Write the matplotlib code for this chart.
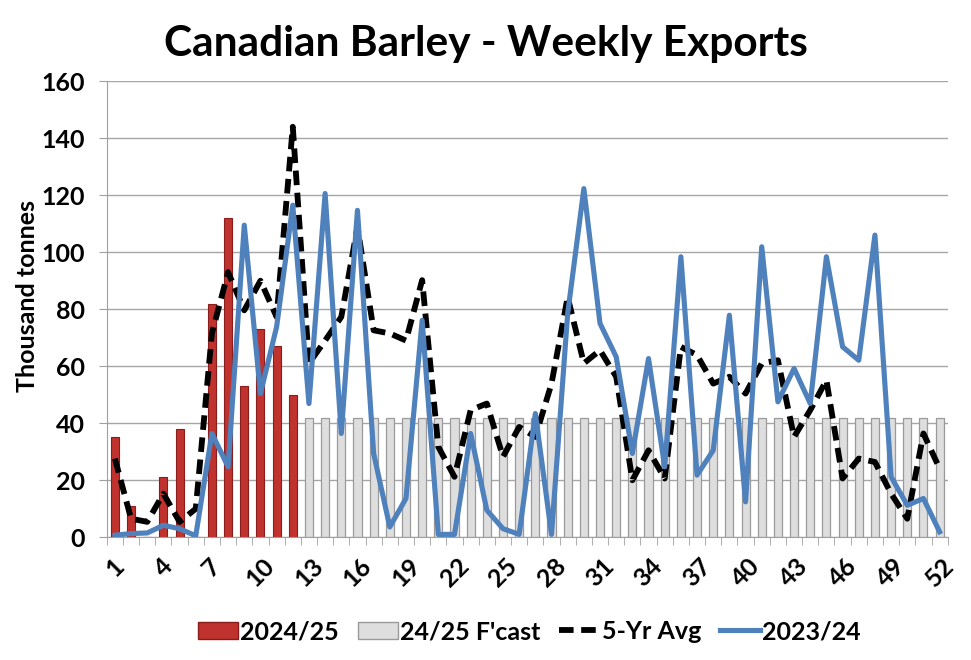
import matplotlib.pyplot as plt
import numpy as np
from matplotlib.patches import Patch
from matplotlib.lines import Line2D

# datos semanales (miles de toneladas)
weeks = list(range(1, 53))

exports_2425 = [35, 11, 0, 21, 38, 0, 82, 112, 53, 73, 67, 50]   # semanas 1-12
fcast_weeks = list(range(13, 53))
fcast_2425 = [42] * len(fcast_weeks)

avg_5yr = [27.6, 6.5, 5.4, 15.3, 5.4, 10, 71.5, 93, 79.6, 90, 77.3, 144,
           61, 69, 77.3, 108.9, 72.6, 71.5, 69, 90.2, 31.7, 21.2, 44.6, 46.9,
           28.2, 38.7, 35.2, 53.9, 84.3, 61, 65.6, 56.3, 20, 30.5, 20.6, 66.8,
           63.9, 53.9, 56.3, 50.4, 61, 62.1, 35.2, 44.6, 55.1, 20.6, 27.6, 26.4,
           15.3, 6.5, 36.4, 24.1]

exports_2324 = [0.7, 1.3, 1.5, 4.2, 3, 0.5, 36.4, 24.7, 109.5, 50.4, 73.8, 116.5,
                46.9, 120.6, 36.4, 114.7, 29.4, 3.6, 13.6, 76.1, 1, 1, 36.4, 9.5,
                3, 1, 43.4, 1, 78.5, 122.3, 75, 63.3, 29.4, 62.7, 24.7, 98.4,
                21.8, 30.5, 77.9, 12.4, 101.9, 47.5, 59.2, 46.9, 98.4, 66.8, 62.1, 106,
                21.2, 11.2, 13.6, 1.9]

tick_weeks = list(range(1, 53, 3))
yticks = list(range(0, 161, 20))

plt.rcParams['font.family'] = ['Lato', 'DejaVu Sans']
plt.rcParams['font.weight'] = 'bold'

fig = plt.figure(figsize=(9.71, 6.6), dpi=100)
ax = fig.add_axes([0.110, 0.186, 0.866, 0.691])

red = '#c0322d'
blue = '#4f81bd'
dash = (0, (2.5, 1.3))

ax.bar(range(1, 13), exports_2425, width=0.5, color=red, edgecolor='#8b1c1c',
       linewidth=0.8, zorder=2)
ax.bar(fcast_weeks, fcast_2425, width=0.5, color='#dedede', edgecolor='#9a9a9a',
       linewidth=0.9, zorder=2)

ax.plot(weeks, avg_5yr, color='black', lw=4.2, linestyle=dash, zorder=3)
ax.plot(weeks, exports_2324, color=blue, lw=3.7, zorder=4)

# ejes
ax.set_xlim(0.5, 52.5)
ax.set_ylim(0, 160)
ax.set_yticks(yticks)
ax.set_yticklabels([str(v) for v in yticks], fontsize=18, fontweight='bold')
ax.set_xticks(tick_weeks)
ax.set_xticklabels([str(w) for w in tick_weeks], fontsize=18, fontweight='bold',
                   rotation=45, ha='center', va='top')
ax.tick_params(axis='x', length=0, pad=12)
ax.set_xticks(np.arange(0.5, 53, 1), minor=True)
ax.tick_params(axis='x', which='minor', length=5.5, color='#a0a0a0')
ax.tick_params(axis='y', length=6, color='#a0a0a0', pad=10)
ax.grid(axis='y', color='#a6a6a6', lw=1, zorder=0)
ax.set_axisbelow(True)
for s in ['top', 'right']:
    ax.spines[s].set_visible(False)
for s in ['left', 'bottom']:
    ax.spines[s].set_color('#a0a0a0')

ax.set_ylabel('Thousand tonnes', fontsize=18, fontweight='bold')
ax.yaxis.set_label_coords(-0.081, 0.528)
fig.suptitle('Canadian Barley - Weekly Exports', fontsize=30.5, fontweight='bold',
             x=0.50, y=0.962)

handles = [Patch(facecolor=red, edgecolor='#8b1c1c'),
           Patch(facecolor='#dedede', edgecolor='#9a9a9a'),
           Line2D([0], [0], color='black', lw=4.2, linestyle=dash),
           Line2D([0], [0], color=blue, lw=3.7)]
labels = ['2024/25', "24/25 F'cast", '5-Yr Avg', '2023/24']
fig.legend(handles, labels, loc='center', bbox_to_anchor=(0.545, 0.043), ncol=4,
           frameon=False, prop={'size': 18, 'weight': 'bold'},
           handlelength=1.6, handletextpad=0.1, columnspacing=0.75)

plt.savefig('out.png', dpi=100)
